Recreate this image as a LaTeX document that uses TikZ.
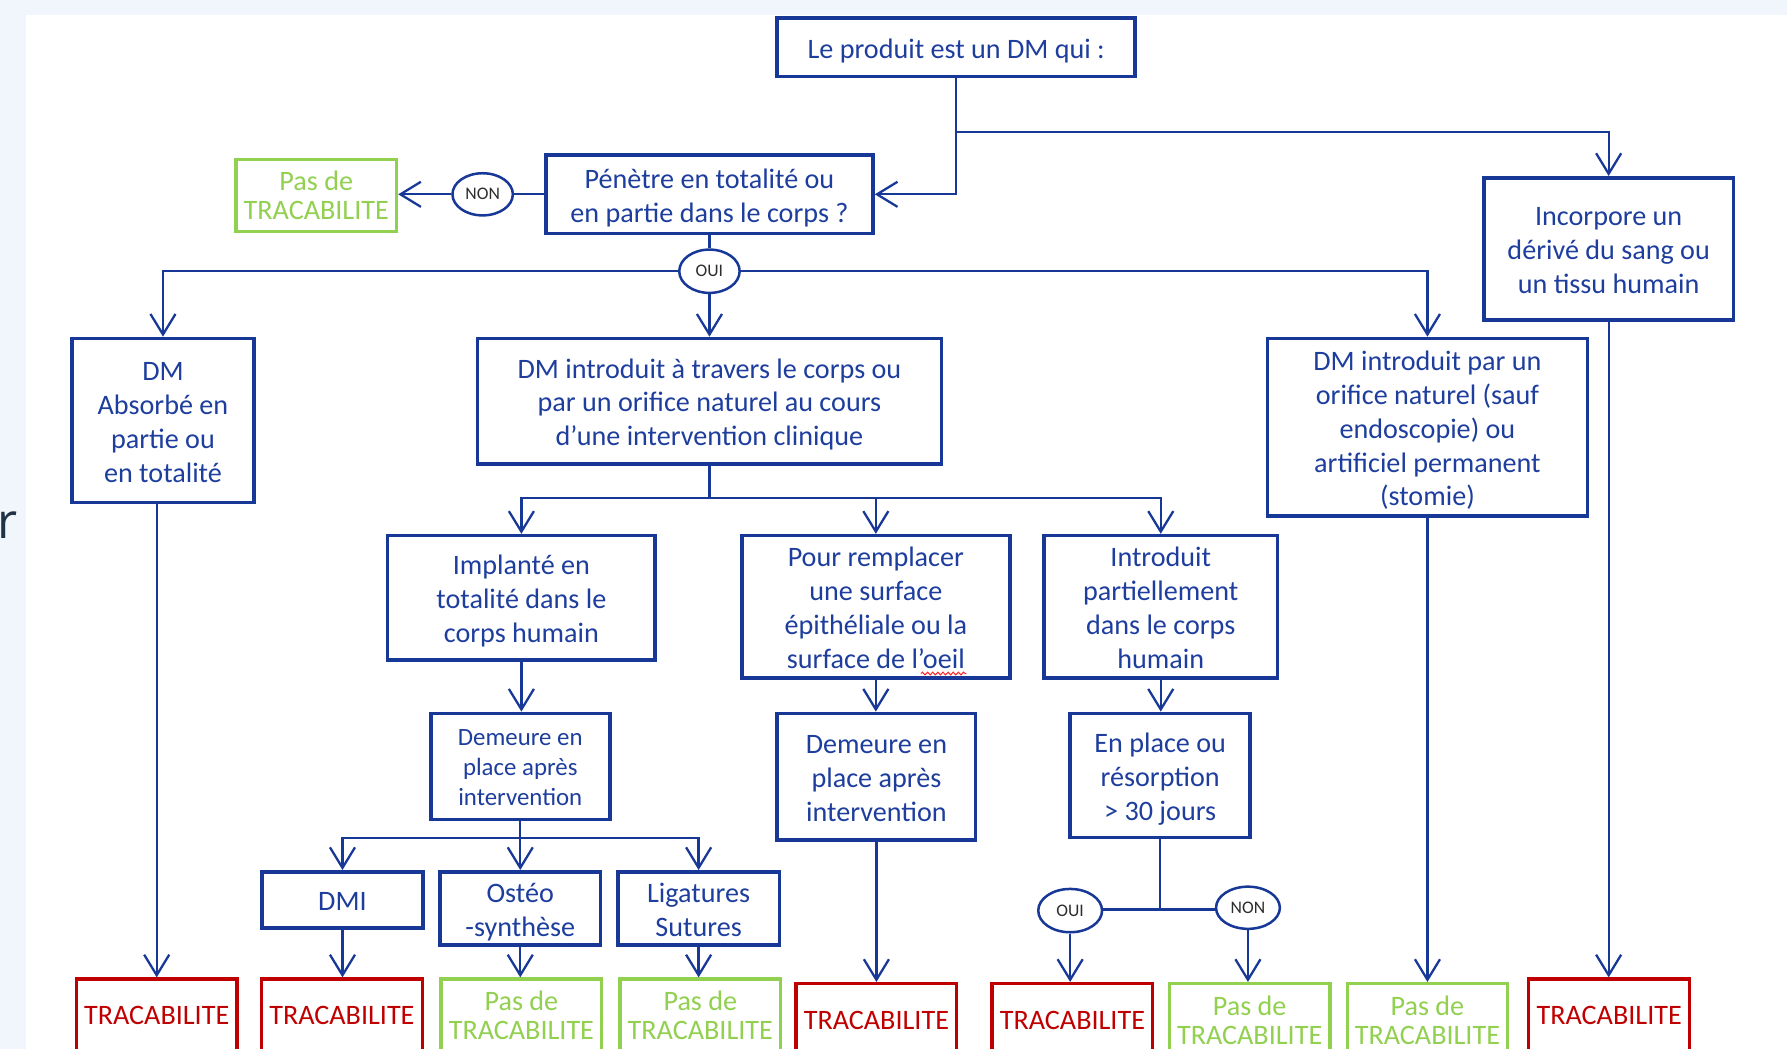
\documentclass[tikz,border=0pt]{standalone}
\usepackage{fontspec}
\setmainfont{Carlito}
\newfontfamily\rfont{Open Sans}
\usetikzlibrary{arrows.meta,shapes.geometric,decorations.pathmorphing}
\definecolor{dmblue}{RGB}{24,56,152}
\definecolor{dmtext}{RGB}{30,62,158}
\definecolor{dmred}{RGB}{192,0,0}
\definecolor{dmgreen}{RGB}{146,208,80}
\definecolor{bgblue}{RGB}{240,246,251}
\definecolor{ynblack}{RGB}{45,45,45}
\definecolor{slate}{RGB}{32,50,70}
\newcommand\mainfs{\fontsize{24.7}{29.7}\selectfont}
\newcommand\smallfs{\fontsize{21.8}{26}\selectfont}
\newcommand\tracfs{\fontsize{24.7}{25.5}\selectfont}
\newcommand\ynfs{\fontsize{15.5}{18}\selectfont}
\newcommand\mytop{\rule{0pt}{24pt}}
\newcommand\mybot{\rule[-5pt]{0pt}{5pt}}
\newcommand\mytopS{\rule{0pt}{20pt}}
\newcommand\mybotS{\rule[-4pt]{0pt}{4pt}}
\begin{document}
\begin{tikzpicture}[x=1pt,y=-1pt,
  box/.style={draw=dmblue, line width=3.2pt, fill=white, text=dmtext, align=center, inner sep=0pt, font=\mainfs},
  smallbox/.style={box, font=\smallfs},
  redbox/.style={draw=dmred, line width=2.8pt, fill=white, text=dmred, align=center, inner sep=0pt, font=\tracfs, minimum width=141pt, minimum height=64pt},
  greenbox/.style={redbox, draw=dmgreen, text=dmgreen},
  yn/.style={ellipse, draw=dmblue, line width=2.2pt, fill=white, text=ynblack, inner sep=0pt, font=\ynfs, minimum width=54pt, minimum height=37pt},
  conn/.style={draw=dmblue, line width=2pt},
  arr/.style={conn, -{Straight Barb[length=18pt,width=22pt]}}
]
\useasboundingbox (0,0) rectangle (1568,920);
\clip (0,0) rectangle (1568,920);
\fill[bgblue] (0,0) rectangle (1568,920);
\fill[white] (22.5,13.2) rectangle (1568,920);
\node[anchor=base west, inner sep=0pt, text=slate, font=\rfont\fontsize{43}{48}\selectfont] (rchar) at (-2.5,472.3) {r};

% main nodes
\node[box, minimum width=314pt, minimum height=51pt] (top) at (839,41.5) {\mytop Le produit est un DM qui :\mybot};
\node[box, minimum width=287pt, minimum height=69pt] (pen) at (622.5,170.5) {\mytop Pénètre en totalité ou\\en partie dans le corps ?\mybot};
\node[greenbox, minimum height=63pt] (pas0) at (277.5,171.5) {Pas de\\TRACABILITE};
\node[yn, minimum width=53pt] (non0) at (423.5,170.5) {NON};
\node[yn, minimum width=53pt, minimum height=38pt] (oui0) at (622.5,238) {OUI};
\node[box, minimum width=219pt, minimum height=125pt] (incorp) at (1411.5,218.5) {\mytop Incorpore un\\dérivé du sang ou\\un tissu humain\mybot};
\node[box, minimum width=160pt, minimum height=144pt] (absorbe) at (143,369) {\mytop DM\\Absorbé en\\partie ou\\en totalité\mybot};
\node[box, minimum width=407pt, minimum height=110pt] (introT) at (622.5,352) {\mytop DM introduit à travers le corps ou\\par un orifice naturel au cours\\d’une intervention clinique\mybot};
\node[box, minimum width=281pt, minimum height=156pt] (orifice) at (1252.5,375) {\mytop DM introduit par un\\orifice naturel (sauf\\endoscopie) ou\\artificiel permanent\\(stomie)\mybot};
\node[box, minimum width=235pt, minimum height=109pt] (implant) at (457.5,524.5) {\mytop Implanté en\\totalité dans le\\corps humain\mybot};
\node[box, minimum width=235pt, minimum height=125pt] (rempl) at (768.5,532.5) {\mytop Pour remplacer\\une surface\\épithéliale ou la\\surface de l’oeil\mybot};
\node[box, minimum width=205pt, minimum height=125pt] (partiel) at (1018.5,532.5) {\mytop Introduit\\partiellement\\dans le corps\\humain\mybot};
\node[smallbox, minimum width=157pt, minimum height=93pt] (dem1) at (456.5,672.5) {\mytopS Demeure en\\place après\\intervention\mybotS};
\node[box, minimum width=174pt, minimum height=111pt] (dem2) at (769,681.5) {\mytop Demeure en\\place après\\intervention\mybot};
\node[box, minimum width=158pt, minimum height=109pt] (enplace) at (1018,680.5) {\mytop En place ou\\résorption\\> 30 jours\mybot};
\node[box, minimum width=141pt, minimum height=49pt] (dmi) at (300.5,789.5) {\mytop DMI\mybot};
\node[box, minimum width=141pt, minimum height=64pt] (osteo) at (456.5,797) {\mytop Ostéo\\-synthèse\mybot};
\node[box, minimum width=142pt, minimum height=64pt] (ligat) at (613,797) {\mytop Ligatures\\Sutures\mybot};
\node[yn, minimum width=56pt, minimum height=38pt] (oui1) at (939,799) {OUI};
\node[yn, minimum width=56pt, minimum height=37pt] (non1) at (1095,796.5) {NON};

% bottom row
\node[redbox] (b1) at (137.5,891) {TRACABILITE};
\node[redbox] (b2) at (300,891) {TRACABILITE};
\node[greenbox] (b3) at (457.5,891) {Pas de\\TRACABILITE};
\node[greenbox] (b4) at (614.5,891) {Pas de\\TRACABILITE};
\node[redbox] (b5) at (769,895) {TRACABILITE};
\node[redbox] (b6) at (941,895) {TRACABILITE};
\node[greenbox] (b7) at (1096.5,895) {Pas de\\TRACABILITE};
\node[greenbox] (b8) at (1252.5,895) {Pas de\\TRACABILITE};
\node[redbox] (b9) at (1412,891) {TRACABILITE};

% junction points
\coordinate (j1) at (839,116);
\coordinate (j2) at (622.5,437);
\coordinate (j3) at (456.5,735);
\coordinate (j4) at (1018,798);

% connectors
\draw[arr] (top.south) |- (pen.east);
\draw[arr] (j1) -| (incorp.north);
\draw[conn] (pen.west) -- (non0.east);
\draw[arr] (non0.west) -- (non0.west -| pas0.east);
\draw[conn] (pen.south) -- (oui0.north);
\draw[arr] (oui0.west) -| (absorbe.north);
\draw[arr] (oui0.east) -| (orifice.north);
\draw[arr] (oui0.south) -- (introT.north);
\draw[conn] (introT.south) -- (j2);
\draw[arr] (j2) -| (implant.north);
\draw[arr] (j2) -| (rempl.north);
\draw[arr] (j2) -| (partiel.north);
\draw[arr] (implant.south) -- (implant.south |- dem1.north);
\draw[arr] (rempl.south) -- (rempl.south |- dem2.north);
\draw[arr] (partiel.south) -- (partiel.south |- enplace.north);
\draw[conn] (dem1.south) -- (j3);
\draw[arr] (j3) -| (dmi.north);
\draw[arr] (j3) -- (osteo.north);
\draw[arr] (j3) -| (ligat.north);
\draw[arr] (dmi.south) -- (dmi.south |- b2.north);
\draw[arr] (osteo.south) -- (osteo.south |- b3.north);
\draw[arr] (ligat.south) -- (ligat.south |- b4.north);
\draw[arr] (b1.north |- absorbe.south) -- (b1.north);
\draw[arr] (dem2.south) -- (b5.north);
\draw[conn] (enplace.south) -- (j4);
\draw[conn] (j4) -- (j4 -| oui1.east);
\draw[conn] (j4) -- (j4 -| non1.west);
\draw[arr] (oui1.south) -- (oui1.south |- b6.north);
\draw[arr] (non1.south) -- (non1.south |- b7.north);
\draw[arr] (orifice.south) -- (b8.north);
\draw[arr] (incorp.south) -- (incorp.south |- b9.north);

% spell-check squiggle under "oeil"
\draw[red!85!white, line width=0.9pt, decorate, decoration={snake, amplitude=1.2pt, segment length=4.5pt}] (808,591) -- (848,591);
\end{tikzpicture}
\end{document}
